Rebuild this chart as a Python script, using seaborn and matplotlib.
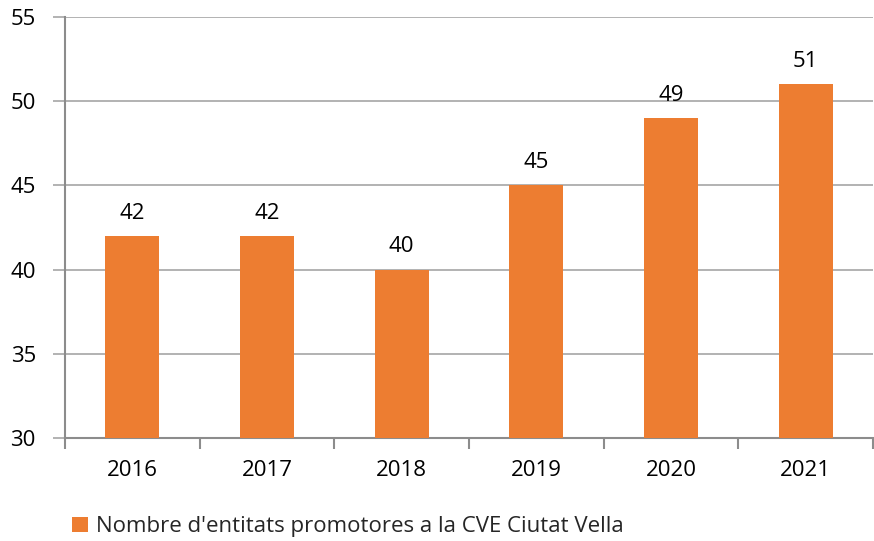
import matplotlib
matplotlib.use("Agg")
import matplotlib.pyplot as plt
import seaborn as sns
import pandas as pd
from matplotlib.patches import Patch
from matplotlib.ticker import FixedLocator

years = ["2016", "2017", "2018", "2019", "2020", "2021"]
values = [42, 42, 40, 45, 49, 51]
series_name = "Nombre d'entitats promotores a la CVE Ciutat Vella"

sns.set_theme(style="white")
plt.rcParams["font.family"] = ["Open Sans", "DejaVu Sans"]

orange = "#ED7D31"
grid_c = "#A6A6A6"
spine_c = "#8C8C8C"
fs = 16

df = pd.DataFrame({"year": years, "value": values})

fig = plt.figure(figsize=(8.74, 5.41), dpi=100)
ax = fig.add_axes([0.0744, 0.190, 0.9245, 0.7786])
sns.barplot(data=df, x="year", y="value", color=orange, width=0.4,
            saturation=1, ax=ax, zorder=3, linewidth=0, edgecolor="none")

ax.set_ylim(30, 55)
ax.set_yticks([30, 35, 40, 45, 50, 55])
ax.set_xlim(-0.5, len(years) - 0.5)
ax.yaxis.grid(True, color=grid_c, linewidth=1.2, zorder=0)
ax.set_axisbelow(True)
for s in ["top", "right"]:
    ax.spines[s].set_visible(False)
for s in ["left", "bottom"]:
    ax.spines[s].set_color(spine_c)
    ax.spines[s].set_linewidth(1.5)

ax.set_xlabel("")
ax.set_ylabel("")
ax.tick_params(axis="y", which="major", length=9, color=grid_c, width=1.2,
               labelsize=fs, pad=12, labelcolor="black", left=True)
ax.tick_params(axis="x", which="major", length=0, labelsize=fs, pad=16,
               labelcolor="black")
ax.xaxis.set_minor_locator(FixedLocator([i - 0.5 for i in range(len(years) + 1)]))
ax.tick_params(axis="x", which="minor", length=8, color=spine_c, width=1.5,
               direction="out", bottom=True)

for c in ax.containers:
    ax.bar_label(c, labels=[str(v) for v in values], padding=9, fontsize=fs,
                 color="black")

handle = Patch(facecolor=orange, edgecolor="none")
fig.legend([handle], [series_name], loc="center left",
           bbox_to_anchor=(0.0725, 0.026), frameon=False, fontsize=fs,
           handlelength=0.7, handleheight=0.7, handletextpad=0.35,
           borderaxespad=0)

fig.savefig("out.png", dpi=100)
